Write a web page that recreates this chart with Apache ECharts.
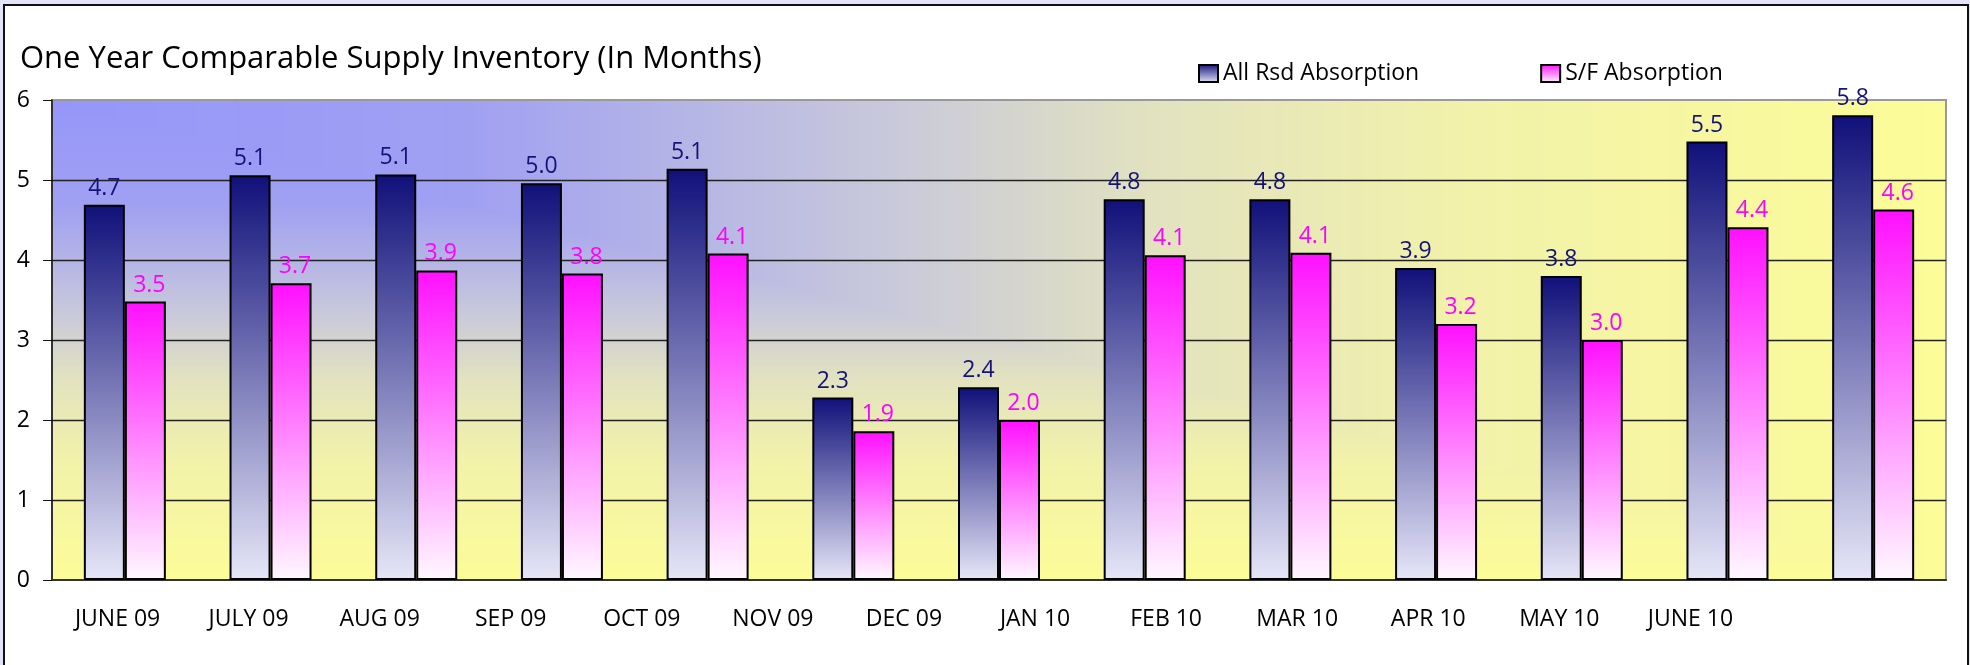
<!DOCTYPE html>
<html lang="en">
<head>
    <meta charset="UTF-8">
    <title>One Year Comparable Supply Inventory</title>
    <style>
        html, body { margin: 0; padding: 0; background: #e4e4f8; overflow: hidden; }
        #frame { position: absolute; left: 3px; top: 4px; width: 1966px; height: 700px; box-sizing: border-box;
                 border: 2px solid #111; background: #fff; }
        #plotbg { position: absolute; }
        #container { position: absolute; left: 0; top: 0; width: 1970px; height: 665px; }
    </style>
</head>
<body>
<div id="frame"></div>
<canvas id="plotbg"></canvas>
<div id="container"></div>
<script src="https://cdn.jsdelivr.net/npm/echarts@6/dist/echarts.min.js"></script>
<script>
    // data
    var months = ['JUNE 09', 'JULY 09', 'AUG 09', 'SEP 09', 'OCT 09', 'NOV 09', 'DEC 09',
                  'JAN 10', 'FEB 10', 'MAR 10', 'APR 10', 'MAY 10', 'JUNE 10'];
    var allRsd = [4.69, 5.06, 5.07, 4.96, 5.14, 2.28, 2.41, 4.76, 4.76, 3.90, 3.80, 5.48, 5.81];
    var sfAbs  = [3.48, 3.71, 3.87, 3.83, 4.08, 1.86, 2.00, 4.06, 4.09, 3.20, 3.00, 4.41, 4.63];

    var G = { left: 52, top: 100, right: 24, bottom: 85 };
    var W = 1970, H = 665;
    var font = '"Open Sans", "DejaVu Sans", sans-serif';

    // plot area background: gradient from the top-left corner (rectangular, like excel "from corner")
    (function () {
        var c = document.getElementById('plotbg');
        var pw = W - G.left - G.right, ph = H - G.top - G.bottom;
        c.width = pw; c.height = ph;
        c.style.left = G.left + 'px'; c.style.top = G.top + 'px';
        var stops = [[0, [150, 150, 250]], [0.22, [160, 160, 242]], [0.45, [202, 202, 218]],
                     [0.58, [226, 226, 192]], [0.75, [242, 242, 170]], [1, [252, 252, 152]]];
        function col(t) {
            for (var i = 1; i < stops.length; i++) {
                if (t <= stops[i][0]) {
                    var a = stops[i - 1], b = stops[i], f = (t - a[0]) / (b[0] - a[0]);
                    return [0, 1, 2].map(function (k) { return a[1][k] + (b[1][k] - a[1][k]) * f; });
                }
            }
            return stops[stops.length - 1][1];
        }
        var ctx = c.getContext('2d');
        var img = ctx.createImageData(pw, ph);
        for (var y = 0; y < ph; y++) {
            for (var x = 0; x < pw; x++) {
                var rgb = col(Math.max(x / pw, y / ph));
                var p = (y * pw + x) * 4;
                img.data[p] = rgb[0]; img.data[p + 1] = rgb[1]; img.data[p + 2] = rgb[2]; img.data[p + 3] = 255;
            }
        }
        ctx.putImageData(img, 0, 0);
    })();

    var myChart = echarts.init(document.getElementById('container'));

    var navyFill = new echarts.graphic.LinearGradient(0, 0, 0, 1, [
        { offset: 0, color: '#10107a' }, { offset: 1, color: '#e6e6f8' }]);
    var pinkFill = new echarts.graphic.LinearGradient(0, 0, 0, 1, [
        { offset: 0, color: '#ff10ff' }, { offset: 1, color: '#fff8ff' }]);

    var option = {
        backgroundColor: 'transparent',
        animation: false,
        textStyle: { fontFamily: font },
        title: {
            text: 'One Year Comparable Supply Inventory (In Months)',
            left: 15, top: 39,
            textStyle: { fontFamily: font, fontSize: 31, fontWeight: 'normal', color: '#000' }
        },
        legend: {
            left: 1193, top: 57,
            icon: 'rect', itemWidth: 19, itemHeight: 17, itemGap: 121,
            textStyle: { fontFamily: font, fontSize: 23, color: '#000' },
            data: ['All Rsd Absorption', 'S/F Absorption']
        },
        grid: {
            left: G.left, top: G.top, right: G.right, bottom: G.bottom,
            show: true, backgroundColor: 'transparent', borderColor: '#999', borderWidth: 2
        },
        xAxis: [{
            type: 'category',
            data: months,
            axisLine: { lineStyle: { color: '#333', width: 2 } },
            axisTick: { length: 9, lineStyle: { color: '#333', width: 1 } },
            axisLabel: { show: false }
        }, {
            // month labels, spaced as in the original
            type: 'value',
            min: -0.5, max: 13.95, interval: 0.5,
            position: 'bottom',
            axisLine: { show: false }, axisTick: { show: false }, splitLine: { show: false },
            axisLabel: {
                margin: 28, fontFamily: font, fontSize: 23, color: '#000',
                formatter: function (v) {
                    return (Math.abs(v - Math.round(v)) < 1e-6 && months[Math.round(v)]) ? months[Math.round(v)] : '';
                }
            }
        }],
        yAxis: {
            type: 'value', min: 0, max: 6, interval: 1,
            axisLine: { show: true, onZero: false, lineStyle: { color: '#111', width: 1.5 } },
            axisTick: { show: true, length: 9, lineStyle: { color: '#111' } },
            axisLabel: { margin: 22, fontFamily: font, fontSize: 23, color: '#000' },
            splitLine: { show: true, showMinLine: false, showMaxLine: false, lineStyle: { color: '#222', width: 1.3 } }
        },
        series: [{
            name: 'All Rsd Absorption',
            type: 'bar',
            xAxisIndex: 0,
            data: allRsd,
            barWidth: 41, barGap: '0%',
            itemStyle: { color: navyFill, borderColor: '#000', borderWidth: 2 },
            label: {
                show: true, position: 'top', distance: 5,
                fontFamily: font, fontSize: 23, color: '#141478',
                formatter: function (p) { return p.value.toFixed(1); }
            }
        }, {
            name: 'S/F Absorption',
            type: 'bar',
            xAxisIndex: 0,
            data: sfAbs,
            barWidth: 41,
            itemStyle: { color: pinkFill, borderColor: '#000', borderWidth: 2 },
            label: {
                show: true, position: 'top', distance: 5, offset: [4, 0],
                fontFamily: font, fontSize: 23, color: '#ff00ff',
                formatter: function (p) { return p.value.toFixed(1); }
            }
        }]
    };

    myChart.setOption(option, true);
</script>
</body>
</html>
